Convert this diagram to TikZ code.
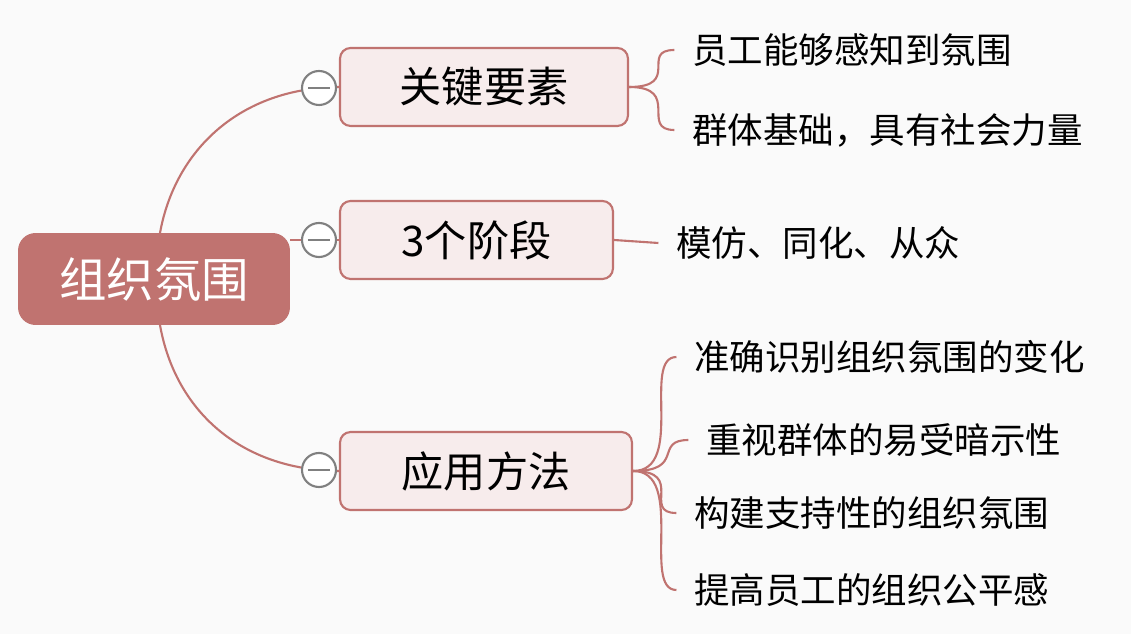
\documentclass[tikz,border=0pt]{standalone}
\usepackage{fontspec}
\setmainfont{Noto Sans CJK SC}
\usetikzlibrary{positioning}
\definecolor{rose}{HTML}{C07370}
\definecolor{pale}{HTML}{F7ECEC}
\tikzset{
  topic/.style={draw=rose,line width=1.2pt,fill=pale,rounded corners=6pt,minimum height=1.56cm,font=\fontsize{24}{28}\selectfont},
  leaf/.style={anchor=west,inner sep=0pt,font=\fontsize{20.2}{24}\selectfont},
  link/.style={draw=rose,line width=1.2pt},
  fold/.style={circle,draw=gray,line width=1.2pt,fill=white,minimum size=0.68cm,inner sep=0pt}
}
\begin{document}
\begin{tikzpicture}[x=0.02cm,y=-0.02cm]
  \fill[white!98!black] (0,0) rectangle (1131,634);
  \useasboundingbox (0,0) rectangle (1131,634);
  % root
  \node[fill=rose,rounded corners=10pt,minimum width=5.44cm,minimum height=1.84cm,text=white,font=\fontsize{27}{32}\selectfont] (root) at (154,279) {组织氛围};
  % topics
  \node[topic,minimum width=5.76cm] (key) at (484,87) {关键要素};
  \node[topic,minimum width=5.46cm] (stage) at (476.5,240) {3个阶段};
  \node[topic,minimum width=5.84cm] (apply) at (486,471) {应用方法};
  \coordinate (top) at (160,233);
  \coordinate (bot) at (160,325);
  \draw[link] (top) .. controls (175,150) and (240,88) .. (key.west);
  \draw[link] (root.east|-stage) -- (stage.west);
  \draw[link] (bot) .. controls (175,410) and (240,470) .. (apply.west);
  \foreach \n/\y in {a/88,b/240,c/470} {
    \node[fold] (f\n) at (319,\y) {};
    \draw[gray,line width=1.2pt] ([xshift=-0.22cm]f\n.center) -- ([xshift=0.22cm]f\n.center);
  }
  % leaves
  \node[leaf] (k1) at (692,50) {员工能够感知到氛围};
  \node[leaf] (k2) at (692,130) {群体基础，具有社会力量};
  \node[leaf] (s1) at (676,243) {模仿、同化、从众};
  \node[leaf] (a1) at (694,357) {准确识别组织氛围的变化};
  \node[leaf] (a2) at (706,440) {重视群体的易受暗示性};
  \node[leaf] (a3) at (694,513) {构建支持性的组织氛围};
  \node[leaf] (a4) at (694,590) {提高员工的组织公平感};
  \foreach \l in {k1,k2} \draw[link] (key.east) .. controls ([xshift=30pt]key.east) and ([xshift=-30pt]\l.west) .. ([xshift=-10pt]\l.west);
  \draw[link] (stage.east) -- ([xshift=-10pt]s1.west);
  \foreach \l in {a1,a2,a3,a4} \draw[link] (apply.east) .. controls ([xshift=30pt]apply.east) and ([xshift=-30pt]\l.west) .. ([xshift=-10pt]\l.west);
\end{tikzpicture}
\end{document}
